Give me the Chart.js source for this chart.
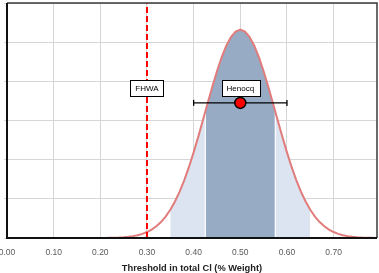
<!DOCTYPE html>
<html>
<head>
<meta charset="utf-8">
<script src="https://cdn.jsdelivr.net/npm/chart.js@4/dist/chart.umd.min.js"></script>
<style>
html,body{margin:0;padding:0;background:#fff;}
#wrap{width:379px;height:273px;}
</style>
</head>
<body>
<div id="wrap"><canvas id="c" width="379" height="273"></canvas></div>
<script>
// ---- data ----
const curveX = [0.00,0.01,0.02,0.03,0.04,0.05,0.06,0.07,0.08,0.09,0.10,0.11,0.12,0.13,0.14,0.15,0.16,0.17,0.18,0.19,
  0.20,0.21,0.22,0.23,0.24,0.25,0.26,0.27,0.28,0.29,0.30,0.31,0.32,0.33,0.34,0.35,0.36,0.37,0.38,0.39,
  0.40,0.41,0.42,0.43,0.44,0.45,0.46,0.47,0.48,0.49,0.50,0.51,0.52,0.53,0.54,0.55,0.56,0.57,0.58,0.59,
  0.60,0.61,0.62,0.63,0.64,0.65,0.66,0.67,0.68,0.69,0.70,0.71,0.72,0.73,0.74,0.75,0.76,0.77,0.78,0.79,0.80];
const curveY = [0,0,0,0,0,0,0,0,0,0,0,0,0,0,0,0,0,0,0,0.001,
  0.002,0.003,0.005,0.008,0.013,0.021,0.032,0.048,0.072,0.106,0.152,0.215,0.299,0.407,0.547,0.720,0.932,1.184,1.479,1.814,
  2.187,2.589,3.011,3.441,3.862,4.259,4.614,4.910,5.133,5.272,5.319,5.272,5.133,4.910,4.614,4.259,3.862,3.441,3.011,2.589,
  2.187,1.814,1.479,1.184,0.932,0.720,0.547,0.407,0.299,0.215,0.152,0.106,0.072,0.048,0.032,0.021,0.013,0.008,0.005,0.003,0.002];
const outerBand = [0.35, 0.65];          // light shaded range
const innerBand = [0.425, 0.575];        // dark shaded range
const innerBandEdgeY = [3.226, 3.226];   // curve height at inner band edges
const fhwaX = 0.30;
const henocqMean = 0.50;
const henocqRange = [0.40, 0.60];
const henocqY = 3.45;
const labelTexts = ['FHWA', 'Henocq'];
const labelXs = [0.30, 0.50];
const labelY = 3.83;
const xTicks = [0.00,0.10,0.20,0.30,0.40,0.50,0.60,0.70];
const yTicks = [0,1,2,3,4,5,6];

// ---- build point lists ----
const curvePts = curveX.map((x,i)=>({x:x,y:curveY[i]}));
const outerPts = curvePts.filter(p=>p.x>=outerBand[0]-1e-9 && p.x<=outerBand[1]+1e-9);
const innerPts = [{x:innerBand[0],y:innerBandEdgeY[0]}]
  .concat(curvePts.filter(p=>p.x>innerBand[0] && p.x<innerBand[1]))
  .concat([{x:innerBand[1],y:innerBandEdgeY[1]}]);

const frame = {
  id:'frame',
  afterDatasetsDraw(chart){
    const a = chart.chartArea, ctx = chart.ctx;
    ctx.save();
    ctx.strokeStyle = '#3a3a3a'; ctx.lineWidth = 1.5;
    ctx.beginPath(); ctx.moveTo(a.left, a.top); ctx.lineTo(a.right, a.top); ctx.lineTo(a.right, a.bottom); ctx.stroke();
    ctx.strokeStyle = '#111'; ctx.lineWidth = 2;
    ctx.beginPath(); ctx.moveTo(a.left, a.top); ctx.lineTo(a.left, a.bottom); ctx.lineTo(a.right, a.bottom); ctx.stroke();
    // labels
    const xs = chart.scales.x, ys = chart.scales.y;
    ctx.font = '8px "Liberation Sans", Arial, sans-serif';
    ctx.textAlign = 'center'; ctx.textBaseline = 'middle';
    labelTexts.forEach((t,i)=>{
      const cx = xs.getPixelForValue(labelXs[i]);
      const cy = ys.getPixelForValue(labelY);
      const w = ctx.measureText(t).width + 10, h = 16;
      ctx.fillStyle = '#fff';
      ctx.fillRect(Math.round(cx - w/2)+0.5, Math.round(cy - h/2)+0.5, Math.round(w), h);
      ctx.strokeStyle = '#000'; ctx.lineWidth = 1;
      ctx.strokeRect(Math.round(cx - w/2)+0.5, Math.round(cy - h/2)+0.5, Math.round(w), h);
      ctx.fillStyle = '#000';
      ctx.fillText(t, cx, cy + 1);
    });
    ctx.restore();
  }
};

new Chart(document.getElementById('c'), {
  type: 'scatter',
  data: {
    datasets: [
      { data: outerPts, showLine: true, fill: 'origin', backgroundColor: '#dbe4f0', borderWidth: 0, pointRadius: 0, order: 10 },
      { data: innerPts, showLine: true, fill: 'origin', backgroundColor: '#97abc5', borderWidth: 0, pointRadius: 0, order: 9 },
      { data: [{x:innerBand[0],y:0},{x:innerBand[0],y:innerBandEdgeY[0]}], showLine: true, borderColor: '#ffffff', borderWidth: 1.2, pointRadius: 0, order: 8 },
      { data: [{x:innerBand[1],y:0},{x:innerBand[1],y:innerBandEdgeY[1]}], showLine: true, borderColor: '#ffffff', borderWidth: 1.2, pointRadius: 0, order: 8 },
      { data: curvePts, showLine: true, borderColor: '#e07c7c', borderWidth: 2, pointRadius: 0, fill: false, order: 7 },
      { data: [{x:fhwaX,y:0},{x:fhwaX,y:6}], showLine: true, borderColor: '#ff0000', borderWidth: 2, borderDash: [6,3], pointRadius: 0, order: 6 },
      { data: [{x:henocqRange[0],y:henocqY},{x:henocqRange[1],y:henocqY}], showLine: true, borderColor: '#000', borderWidth: 1.3,
        pointStyle: 'line', rotation: 90, pointRadius: 3, pointBorderColor: '#000', pointBorderWidth: 1.3, order: 5 },
      { data: [{x:henocqMean,y:henocqY}], pointRadius: 5.5, backgroundColor: '#ff0000', borderColor: '#000', borderWidth: 1.5, order: 4 }
    ]
  },
  options: {
    responsive: false,
    animation: false,
    events: [],
    layout: { autoPadding: false, padding: { left: 4, right: 2, top: 3, bottom: 0 } },
    plugins: { legend: { display: false }, tooltip: { enabled: false } },
    scales: {
      x: {
        type: 'linear', min: 0, max: 0.793,
        afterBuildTicks(axis){ axis.ticks = xTicks.map(v=>({value:v})); },
        afterFit(axis){ axis.height = 35; axis.paddingLeft = 0; axis.paddingRight = 0; },
        ticks: { includeBounds: false, padding: 10, color: '#595959', font: { family: '"Liberation Sans", Arial, sans-serif', size: 8.5 },
          callback: v => Number(v).toFixed(2) },
        grid: { color: '#d6d6d6', lineWidth: 1, drawTicks: false },
        border: { display: false },
        title: { display: true, text: 'Threshold in total Cl (% Weight)', color: '#222',
          font: { family: '"Liberation Sans", Arial, sans-serif', size: 9.3, weight: 'bold' }, padding: { top: 4, bottom: -1 } }
      },
      y: {
        min: 0, max: 6,
        afterBuildTicks(axis){ axis.ticks = yTicks.map(v=>({value:v})); },
        afterFit(axis){ axis.width = 3; axis.paddingTop = 0; axis.paddingBottom = 0; },
        ticks: { display: false },
        grid: { color: '#d6d6d6', lineWidth: 1, drawTicks: true, tickLength: 3 },
        border: { display: false }
      }
    }
  },
  plugins: [frame]
});
</script>
</body>
</html>
